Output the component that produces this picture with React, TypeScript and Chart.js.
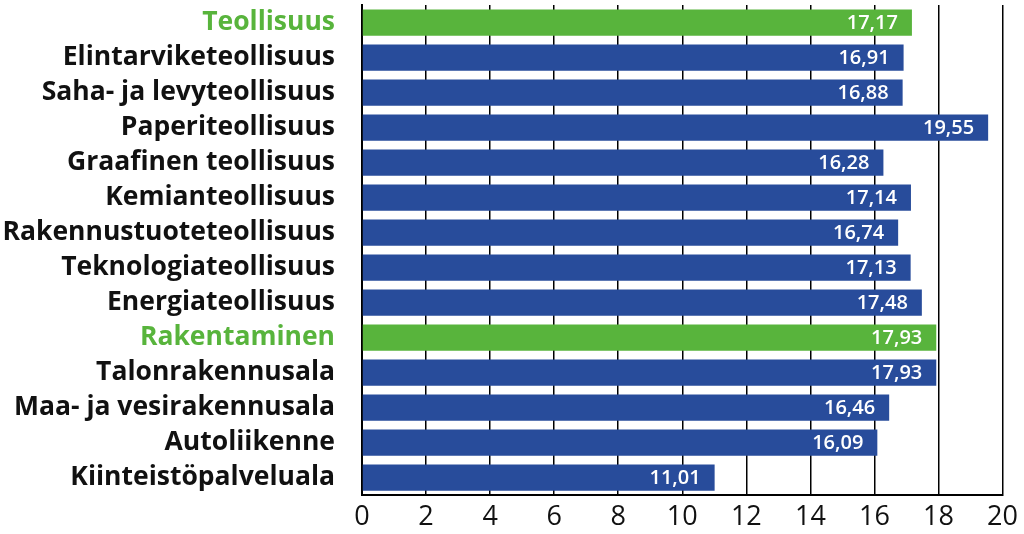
import React, { useEffect, useRef } from "react";
import { Chart, registerables } from "chart.js";

Chart.register(...registerables);

const categories = [
  "Teollisuus",
  "Elintarviketeollisuus",
  "Saha- ja levyteollisuus",
  "Paperiteollisuus",
  "Graafinen teollisuus",
  "Kemianteollisuus",
  "Rakennustuoteteollisuus",
  "Teknologiateollisuus",
  "Energiateollisuus",
  "Rakentaminen",
  "Talonrakennusala",
  "Maa- ja vesirakennusala",
  "Autoliikenne",
  "Kiinteistöpalveluala",
];
const values = [17.17, 16.91, 16.88, 19.55, 16.28, 17.14, 16.74, 17.13, 17.48, 17.93, 17.93, 16.46, 16.09, 11.01];
const highlighted = ["Teollisuus", "Rakentaminen"];
const xTicks = [0, 2, 4, 6, 8, 10, 12, 14, 16, 18, 20];

const GREEN = "#58b43c";
const BLUE = "#284c9b";

const valueLabels = {
  id: "valueLabels",
  afterDatasetsDraw(chart: any) {
    const ctx = chart.ctx;
    const meta = chart.getDatasetMeta(0);
    ctx.save();
    ctx.fillStyle = "#ffffff";
    ctx.font = "600 20px 'Open Sans', sans-serif";
    ctx.textAlign = "right";
    ctx.textBaseline = "middle";
    meta.data.forEach((bar: any, i: number) => {
      const txt = values[i].toFixed(2).replace(".", ",");
      ctx.fillText(txt, bar.x - 14, bar.y + 1);
    });
    ctx.restore();
  },
};

export default function App() {
  const ref = useRef<HTMLCanvasElement>(null);
  useEffect(() => {
    if (!ref.current) return;
    const colors = categories.map((c) => (highlighted.includes(c) ? GREEN : BLUE));
    const chart = new Chart(ref.current, {
      type: "bar",
      data: {
        labels: categories,
        datasets: [
          {
            data: values,
            backgroundColor: colors,
            borderWidth: 0,
            categoryPercentage: 0.75,
            barPercentage: 1,
          },
        ],
      },
      options: {
        indexAxis: "y",
        animation: false,
        responsive: false,
        maintainAspectRatio: false,
        layout: { padding: { top: 5, right: 16, left: 0, bottom: 0 } },
        plugins: { legend: { display: false }, tooltip: { enabled: false } },
        scales: {
          x: {
            min: 0,
            max: 20,
            afterBuildTicks(axis: any) {
              axis.ticks = xTicks.map((v) => ({ value: v }));
            },
            grid: { color: "#000000", lineWidth: 1.5, drawTicks: false },
            border: { color: "#000000", width: 2 },
            ticks: {
              color: "#111111",
              font: { family: "'Liberation Sans Narrow', 'Open Sans', sans-serif", size: 27 },
              padding: 6,
            },
            afterFit(axis: any) {
              axis.height = 39;
              axis.paddingLeft = 0;
            },
          },
          y: {
            grid: { display: false, drawTicks: false },
            border: { color: "#000000", width: 2 },
            ticks: {
              color: (c: any) => (highlighted.includes(categories[c.index]) ? GREEN : "#111111"),
              font: { family: "'Open Sans', sans-serif", size: 26.5, weight: 700 },
              padding: 27,
              autoSkip: false,
            },
            afterFit(axis: any) {
              axis.width = 362;
              axis.paddingTop = 0;
              axis.paddingBottom = 0;
            },
          },
        },
      },
      plugins: [valueLabels],
    });
    return () => chart.destroy();
  }, []);
  return (
    <div style={{ position: "fixed", left: 0, top: 0, width: 1024, height: 534, background: "#fff" }}>
      <canvas ref={ref} width={1024} height={534} style={{ width: 1024, height: 534 }} />
    </div>
  );
}
